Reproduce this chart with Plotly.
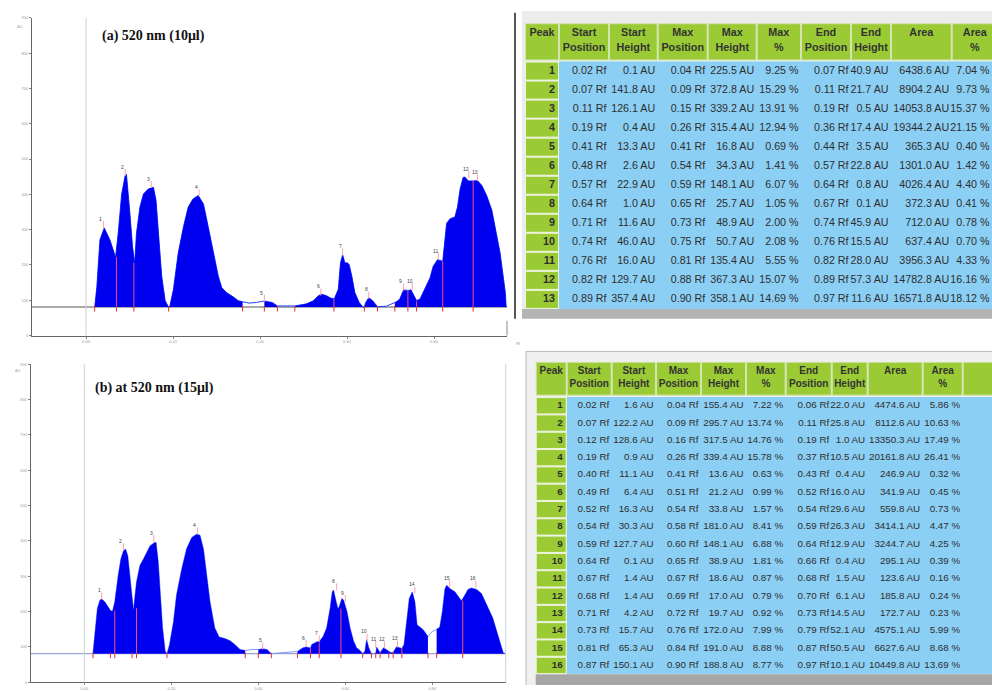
import plotly.graph_objects as go

# ---------------- Densitogram (a) : 520 nm (10 µl) ----------------
rf_a = [0.020, 0.025, 0.032, 0.042, 0.055, 0.063, 0.068, 0.074, 0.082, 0.090, 0.093, 0.101, 0.107,
        0.112, 0.116, 0.124, 0.132, 0.143, 0.155, 0.161, 0.166, 0.174, 0.182, 0.190, 0.193, 0.201,
        0.212, 0.224, 0.235, 0.246, 0.258, 0.270, 0.281, 0.293, 0.304, 0.312, 0.323, 0.338, 0.350,
        0.360, 0.375, 0.392, 0.410, 0.417, 0.428, 0.440, 0.455, 0.470, 0.480, 0.492, 0.507, 0.523,
        0.534, 0.542, 0.553, 0.561, 0.570, 0.572, 0.580, 0.585, 0.590, 0.595, 0.601, 0.605, 0.611,
        0.618, 0.628, 0.637, 0.640, 0.643, 0.650, 0.659, 0.670, 0.690, 0.710, 0.714, 0.721, 0.730,
        0.737, 0.740, 0.747, 0.756, 0.760, 0.768, 0.775, 0.783, 0.791, 0.798, 0.808, 0.815, 0.820,
        0.829, 0.837, 0.848, 0.854, 0.860, 0.867, 0.871, 0.879, 0.890, 0.900, 0.910, 0.921, 0.933,
        0.944, 0.952, 0.960, 0.964, 0.966]
au_a = [80, 140, 271, 305, 271, 243, 222, 290, 401, 453, 457, 345, 252,
        206, 290, 364, 401, 415, 420, 383, 290, 169, 99, 80, 85, 131,
        234, 308, 364, 387, 397, 373, 308, 234, 169, 136, 122, 110, 99,
        96, 92, 94, 98, 96, 94, 84, 83, 84, 84, 87, 90, 99,
        113, 117, 113, 107, 104, 108, 131, 206, 229, 206, 206, 201, 169,
        122, 94, 80, 82, 94, 107, 99, 82, 83, 93, 96, 103, 129,
        129, 127, 130, 108, 99, 104, 122, 145, 164, 196, 215, 213, 210,
        318, 331, 336, 364, 415, 448, 449, 438, 438, 439, 425, 397, 355,
        290, 234, 159, 122, 80]
baseline_a = 81

# ---------------- Densitogram (b) : at 520 nm (15 µl) ----------------
rf_b = [0.020, 0.025, 0.030, 0.036, 0.040, 0.047, 0.055, 0.061, 0.065, 0.070, 0.078, 0.084, 0.090,
        0.095, 0.100, 0.105, 0.110, 0.113, 0.120, 0.128, 0.136, 0.143, 0.151, 0.160, 0.165, 0.170,
        0.174, 0.180, 0.186, 0.190, 0.196, 0.205, 0.212, 0.224, 0.235, 0.247, 0.258, 0.266, 0.274,
        0.281, 0.289, 0.300, 0.310, 0.323, 0.335, 0.346, 0.358, 0.370, 0.385, 0.400, 0.410, 0.420,
        0.430, 0.445, 0.465, 0.480, 0.490, 0.496, 0.503, 0.510, 0.517, 0.520, 0.523, 0.531, 0.535,
        0.540, 0.549, 0.557, 0.565, 0.570, 0.573, 0.579, 0.583, 0.586, 0.592, 0.596, 0.604, 0.611,
        0.619, 0.626, 0.634, 0.640, 0.645, 0.649, 0.654, 0.660, 0.665, 0.670, 0.672, 0.680, 0.688,
        0.696, 0.700, 0.705, 0.710, 0.714, 0.718, 0.725, 0.730, 0.735, 0.741, 0.747, 0.754, 0.760,
        0.765, 0.772, 0.779, 0.790, 0.800, 0.810, 0.817, 0.823, 0.829, 0.833, 0.841, 0.852, 0.862,
        0.867, 0.875, 0.882, 0.890, 0.902, 0.913, 0.921, 0.929, 0.939, 0.948, 0.956, 0.963, 0.969]
au_b = [83, 154, 209, 233, 236, 228, 214, 202, 202, 228, 303, 349, 372,
        377, 358, 293, 228, 205, 284, 331, 349, 368, 386, 394, 396, 341,
        266, 154, 88, 81, 107, 172, 247, 321, 377, 410, 419, 416, 377,
        303, 228, 154, 128, 124, 118, 107, 93, 90, 93, 93, 95, 93,
        81, 83, 84, 86, 87, 93, 98, 100, 98, 97, 107, 112, 115,
        115, 130, 154, 209, 256, 261, 228, 209, 214, 237, 233, 200, 154,
        117, 98, 90, 81, 88, 121, 98, 81, 82, 82, 100, 84, 98,
        91, 87, 84, 85, 93, 101, 98, 96, 107, 172, 237, 256, 228,
        163, 156, 149, 130, 144, 150, 156, 200, 265, 275, 265, 256, 237,
        231, 247, 263, 267, 263, 251, 228, 209, 182, 144, 112, 84, 81]
baseline_b = 81

# ---------------- Peak tables ----------------
peak_a = list(range(1, 14))
start_pos_a = [0.02, 0.07, 0.11, 0.19, 0.41, 0.48, 0.57, 0.64, 0.71, 0.74, 0.76, 0.82, 0.89]
start_h_a = [0.1, 141.8, 126.1, 0.4, 13.3, 2.6, 22.9, 1.0, 11.6, 46.0, 16.0, 129.7, 357.4]
max_pos_a = [0.04, 0.09, 0.15, 0.26, 0.41, 0.54, 0.59, 0.65, 0.73, 0.75, 0.81, 0.88, 0.90]
max_h_a = [225.5, 372.8, 339.2, 315.4, 16.8, 34.3, 148.1, 25.7, 48.9, 50.7, 135.4, 367.3, 358.1]
max_pct_a = [9.25, 15.29, 13.91, 12.94, 0.69, 1.41, 6.07, 1.05, 2.00, 2.08, 5.55, 15.07, 14.69]
end_pos_a = [0.07, 0.11, 0.19, 0.36, 0.44, 0.57, 0.64, 0.67, 0.74, 0.76, 0.82, 0.89, 0.97]
end_h_a = [40.9, 21.7, 0.5, 17.4, 3.5, 22.8, 0.8, 0.1, 45.9, 15.5, 28.0, 57.3, 11.6]
area_a = [6438.6, 8904.2, 14053.8, 19344.2, 365.3, 1301.0, 4026.4, 372.3, 712.0, 637.4, 3956.3, 14782.8, 16571.8]
area_pct_a = [7.04, 9.73, 15.37, 21.15, 0.40, 1.42, 4.40, 0.41, 0.78, 0.70, 4.33, 16.16, 18.12]

peak_b = list(range(1, 17))
start_pos_b = [0.02, 0.07, 0.12, 0.19, 0.40, 0.49, 0.52, 0.54, 0.59, 0.64, 0.67, 0.68, 0.71, 0.73, 0.81, 0.87]
start_h_b = [1.6, 122.2, 128.6, 0.9, 11.1, 6.4, 16.3, 30.3, 127.7, 0.1, 1.4, 1.4, 4.2, 15.7, 65.3, 150.1]
max_pos_b = [0.04, 0.09, 0.16, 0.26, 0.41, 0.51, 0.54, 0.58, 0.60, 0.65, 0.67, 0.69, 0.72, 0.76, 0.84, 0.90]
max_h_b = [155.4, 295.7, 317.5, 339.4, 13.6, 21.2, 33.8, 181.0, 148.1, 38.9, 18.6, 17.0, 19.7, 172.0, 191.0, 188.8]
max_pct_b = [7.22, 13.74, 14.76, 15.78, 0.63, 0.99, 1.57, 8.41, 6.88, 1.81, 0.87, 0.79, 0.92, 7.99, 8.88, 8.77]
end_pos_b = [0.06, 0.11, 0.19, 0.37, 0.43, 0.52, 0.54, 0.59, 0.64, 0.66, 0.68, 0.70, 0.73, 0.79, 0.87, 0.97]
end_h_b = [22.0, 25.8, 1.0, 10.5, 0.4, 16.0, 29.6, 26.3, 12.9, 0.4, 1.5, 6.1, 14.5, 52.1, 50.5, 10.1]
area_b = [4474.6, 8112.6, 13350.3, 20161.8, 246.9, 341.9, 559.8, 3414.1, 3244.7, 295.1, 123.6, 185.8,
          172.7, 4575.1, 6627.6, 10449.8]
area_pct_b = [5.86, 10.63, 17.49, 26.41, 0.32, 0.45, 0.73, 4.47, 4.25, 0.39, 0.16, 0.24, 0.23, 5.99, 8.68, 13.69]

header_labels = [["Peak"], ["Start", "Position"], ["Start", "Height"], ["Max", "Position"], ["Max", "Height"],
                 ["Max", "%"], ["End", "Position"], ["End", "Height"], ["Area"], ["Area", "%"]]

title_a = "(a) 520 nm (10μl)"
title_b = "(b) at 520 nm (15μl)"

# ---------------- styling ----------------
FILL = "#0000f0"
PEAKLINE = "#f0507a"
GREEN = "#9acb34"
BLUE = "#8ccff5"
TFONT = "Liberation Sans, Arial, sans-serif"
W, H = 992, 691


def px_x(p):
    return p / W


def px_y(p):
    return 1 - p / H


def clusters(starts, ends, tol=0.0105):
    groups = []
    for s, e in zip(starts, ends):
        if groups and s - groups[-1][1] <= tol:
            groups[-1][1] = max(groups[-1][1], e)
        else:
            groups.append([s, e])
    return groups


fig = go.Figure()
shapes = []


def add_densitogram(rf, au, base, starts, sh, ends, mpos, mh, xa, ya, gapcolor, basecolor, xrange_):
    fig.add_trace(go.Scatter(x=[xrange_[0], xrange_[1]], y=[base, base], mode="lines",
                             line=dict(color=basecolor, width=1), xaxis=xa, yaxis=ya,
                             hoverinfo="skip", showlegend=False))
    fig.add_trace(go.Scatter(x=rf, y=au, mode="lines", line=dict(color=gapcolor, width=1),
                             xaxis=xa, yaxis=ya, hoverinfo="skip", showlegend=False))
    for s, e in clusters(starts, ends):
        xs = [x for x in rf if s - 0.003 <= x <= e + 0.003]
        ys = [y for x, y in zip(rf, au) if s - 0.003 <= x <= e + 0.003]
        fig.add_trace(go.Scatter(x=xs + [xs[-1], xs[0]], y=ys + [base, base], mode="lines",
                                 fill="toself", fillcolor=FILL, line=dict(width=0, color=FILL),
                                 xaxis=xa, yaxis=ya, hoverinfo="skip", showlegend=False))
    bx, by = [], []
    for i in range(1, len(starts)):
        if starts[i] - ends[i - 1] <= 0.0105:
            bx += [starts[i], starts[i], None]
            by += [base, base + sh[i], None]
    fig.add_trace(go.Scatter(x=bx, y=by, mode="lines", line=dict(color=PEAKLINE, width=1),
                             xaxis=xa, yaxis=ya, hoverinfo="skip", showlegend=False))
    marks = sorted(set(starts + ends))
    fig.add_trace(go.Scatter(x=marks, y=[base - 5] * len(marks), mode="markers",
                             marker=dict(symbol="line-ns-open", size=4, color="#e03030",
                                         line=dict(width=1, color="#e03030")),
                             xaxis=xa, yaxis=ya, hoverinfo="skip", showlegend=False))
    fig.add_trace(go.Scatter(x=mpos, y=[base + h + 8 for h in mh], mode="markers",
                             marker=dict(symbol="line-ns-open", size=5, color="#ffa0b0",
                                         line=dict(width=1, color="#ffa0b0")),
                             xaxis=xa, yaxis=ya, hoverinfo="skip", showlegend=False))
    for i, (p, h) in enumerate(zip(mpos, mh)):
        fig.add_annotation(x=p - 0.006, y=base + h + 24, xref=xa, yref=ya, text=str(i + 1),
                           showarrow=False, font=dict(size=5, color="#444", family="Liberation Sans"))


xr_a = [(32 - 86) / 435, (507 - 86) / 435]
xr_b = [(30.7 - 84.3) / 435, (505.7 - 84.3) / 435]

add_densitogram(rf_a, au_a, baseline_a, start_pos_a, start_h_a, end_pos_a, max_pos_a, max_h_a,
                "x", "y", "#2040ff", "#555555", xr_a)
add_densitogram(rf_b, au_b, baseline_b, start_pos_b, start_h_b, end_pos_b, max_pos_b, max_h_b,
                "x2", "y2", "#7d98ff", "#7f90c8", [xr_b[0], xr_b[1] + 0.03])


# ---------------- tables (drawn on a pixel-unit overlay axis) ----------------
def table_cells(peaks, sp, sh, mp, mh, mpc, ep, eh, ar, arp):
    return [
        [f"<b>{p}</b>" for p in peaks],
        [f"{v:.2f} Rf" for v in sp],
        [f"{v:.1f} AU" for v in sh],
        [f"{v:.2f} Rf" for v in mp],
        [f"{v:.1f} AU" for v in mh],
        [f"{v:.2f} %" for v in mpc],
        [f"{v:.2f} Rf" for v in ep],
        [f"{v:.1f} AU" for v in eh],
        [f"{v:.1f} AU" for v in ar],
        [f"{v:.2f} %" for v in arp],
    ]


def draw_table(cells, headers, edges, h_top, h_bot, line1, line2, r_top, r_h, fsize, hsize):
    n = len(cells[0])
    for j in range(len(edges) - 1):
        shapes.append(dict(type="rect", xref="x3", yref="y3", x0=edges[j] + 0.5, x1=edges[j + 1] - 0.5,
                           y0=h_top, y1=h_bot, fillcolor=GREEN, line=dict(color="#d4e5b0", width=1),
                           layer="below"))
    shapes.append(dict(type="rect", xref="x3", yref="y3", x0=edges[1], x1=W, y0=r_top, y1=r_top + n * r_h,
                       fillcolor=BLUE, line=dict(width=0), layer="below"))
    for i in range(n):
        shapes.append(dict(type="rect", xref="x3", yref="y3", x0=edges[0] + 0.5, x1=edges[1] - 0.5,
                           y0=r_top + i * r_h + 0.5, y1=r_top + (i + 1) * r_h - 0.5, fillcolor=GREEN,
                           line=dict(color="#eef5df", width=1), layer="below"))
    hx, hy, ht = [], [], []
    for j, lab in enumerate(headers):
        cx = (edges[j] + edges[j + 1]) / 2
        hx.append(cx); hy.append(line1); ht.append(f"<b>{lab[0]}</b>")
        if len(lab) > 1:
            hx.append(cx); hy.append(line2); ht.append(f"<b>{lab[1]}</b>")
    fig.add_trace(go.Scatter(x=hx, y=hy, text=ht, mode="text", textposition="middle center",
                             textfont=dict(size=hsize, color="#333", family=TFONT),
                             xaxis="x3", yaxis="y3", hoverinfo="skip", showlegend=False))
    tx, ty, tt = [], [], []
    for j, col in enumerate(cells):
        for i, v in enumerate(col):
            if v == "":
                continue
            tx.append(min(edges[j + 1], W) - (4 if j == 0 else 2.5))
            ty.append(r_top + (i + 0.5) * r_h)
            tt.append(v)
    fig.add_trace(go.Scatter(x=tx, y=ty, text=tt, mode="text", textposition="middle left",
                             textfont=dict(size=fsize, color="#2e2e2e", family=TFONT),
                             xaxis="x3", yaxis="y3", hoverinfo="skip", showlegend=False))


cells_a = table_cells(peak_a, start_pos_a, start_h_a, max_pos_a, max_h_a, max_pct_a,
                      end_pos_a, end_h_a, area_a, area_pct_a)
cells_b = table_cells(peak_b, start_pos_b, start_h_b, max_pos_b, max_h_b, max_pct_b,
                      end_pos_b, end_h_b, area_b, area_pct_b)

shapes += [
    dict(type="rect", xref="x3", yref="y3", x0=522, x1=W, y0=8, y1=310, fillcolor="#ececec",
         line=dict(width=0), layer="below"),
    dict(type="rect", xref="x3", yref="y3", x0=522, x1=W, y0=310, y1=320, fillcolor="#b4b4b4",
         line=dict(width=0), layer="below"),
    dict(type="line", xref="x3", yref="y3", x0=515, x1=515, y0=10, y1=320, line=dict(color="#555", width=2)),
    dict(type="rect", xref="x3", yref="y3", x0=526, x1=W + 2, y0=353, y1=H + 2, fillcolor="#f0f0f0",
         line=dict(color="#b8b8b8", width=1), layer="below"),
    dict(type="rect", xref="x3", yref="y3", x0=535.7, x1=W, y0=680, y1=H, fillcolor="#a6a6a6",
         line=dict(width=0), layer="below"),
]

draw_table(cells_a, header_labels,
           [525, 559, 609, 657.7, 707.7, 756.7, 801, 851, 891, 951.7, 998],
           21, 57.7, 30.7, 45.7, 59.3, 19.28, 10.7, 10.8)
draw_table(cells_b, header_labels + [[""]],
           [535.7, 566.7, 611.7, 656, 701, 746, 785.7, 831.7, 867.7, 922.7, 962.7, 995],
           364, 397.3, 373.5, 387, 399.3, 17.54, 9.8, 10)

# ---------------- layout ----------------
axis_common = dict(showgrid=False, zeroline=False, showline=True, linecolor="#666", linewidth=1,
                   ticks="outside", ticklen=2, tickcolor="#888",
                   tickfont=dict(size=4, color="#999", family="Liberation Sans"))

shapes += [
    dict(type="line", xref="x", yref="y domain", x0=0, x1=0, y0=0, y1=1, line=dict(color="#cfcfcf", width=1)),
    dict(type="line", xref="x2", yref="y2 domain", x0=0, x1=0, y0=0, y1=1, line=dict(color="#c5d6da", width=1)),
    dict(type="line", xref="x2 domain", yref="y2 domain", x0=1, x1=1, y0=0, y1=1, line=dict(color="#c5d6da", width=1)),
    dict(type="line", xref="paper", yref="paper", x0=px_x(507), x1=px_x(507), y0=px_y(337), y1=px_y(322),
         line=dict(color="#888", width=1)),
]

annotations_extra = [
    dict(x=px_x(100), y=px_y(33), xref="paper", yref="paper", text=f"<b>{title_a}</b>", showarrow=False,
         xanchor="left", yanchor="middle", font=dict(size=14, color="#111", family="Liberation Serif")),
    dict(x=px_x(93), y=px_y(390), xref="paper", yref="paper", text=f"<b>{title_b}</b>", showarrow=False,
         xanchor="left", yanchor="middle", font=dict(size=14, color="#111", family="Liberation Serif")),
    dict(x=px_x(15), y=px_y(19), xref="paper", yref="paper", text="AU", showarrow=False,
         font=dict(size=4, color="#999")),
    dict(x=px_x(13), y=px_y(372), xref="paper", yref="paper", text="AU", showarrow=False,
         font=dict(size=4, color="#999")),
    dict(x=px_x(518), y=px_y(345), xref="paper", yref="paper", text="Rf", showarrow=False,
         font=dict(size=4, color="#999")),
]
for a in annotations_extra:
    fig.add_annotation(**a)

fig.update_layout(
    width=W, height=H, margin=dict(l=0, r=0, t=0, b=0),
    paper_bgcolor="white", plot_bgcolor="rgba(0,0,0,0)", showlegend=False,
    xaxis=dict(domain=[px_x(32), px_x(507)], range=xr_a, anchor="y",
               tickvals=[0, 0.2, 0.4, 0.6, 0.8], tickformat=".2f", **axis_common),
    yaxis=dict(domain=[px_y(337), px_y(15)], range=[0, 900], dtick=100, anchor="x", **axis_common),
    xaxis2=dict(domain=[px_x(30.7), px_x(505.7)], range=xr_b, anchor="y2",
                tickvals=[0, 0.2, 0.4, 0.6, 0.8], tickformat=".2f", **axis_common),
    yaxis2=dict(domain=[px_y(688.3), px_y(366)], range=[0, 900], dtick=100, anchor="x2", **axis_common),
    xaxis3=dict(domain=[0, 1], range=[0, W], anchor="y3", visible=False, fixedrange=True),
    yaxis3=dict(domain=[0, 1], range=[H, 0], anchor="x3", visible=False, fixedrange=True),
    shapes=shapes,
)

fig.write_html("out.html", config={"displayModeBar": False},
               post_script="document.body.style.margin='0';document.body.style.overflow='hidden';")
